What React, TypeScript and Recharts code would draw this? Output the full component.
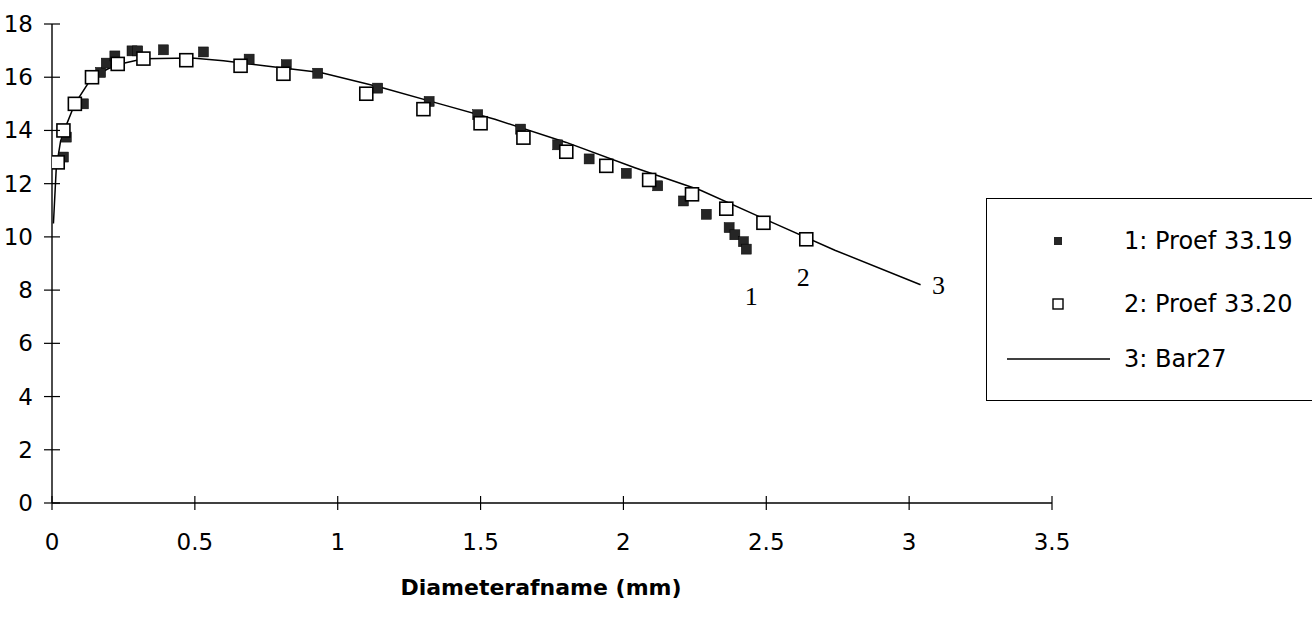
import { ScatterChart, Scatter, XAxis, YAxis, Legend } from "recharts";

// Proef 33.19 (filled squares)
const P1_X = [0.04, 0.05, 0.11, 0.17, 0.19, 0.22, 0.28, 0.3, 0.39, 0.53, 0.69, 0.82, 0.93, 1.14, 1.32, 1.49, 1.64, 1.77, 1.88, 2.01, 2.12, 2.21, 2.29, 2.37, 2.39, 2.42, 2.43];
const P1_Y = [13.0, 13.75, 15.0, 16.18, 16.53, 16.8, 16.99, 16.99, 17.03, 16.95, 16.68, 16.47, 16.15, 15.59, 15.09, 14.59, 14.05, 13.46, 12.93, 12.39, 11.92, 11.35, 10.85, 10.35, 10.08, 9.82, 9.54];

// Proef 33.20 (open squares)
const P2_X = [0.02, 0.04, 0.08, 0.14, 0.23, 0.32, 0.47, 0.66, 0.81, 1.1, 1.3, 1.5, 1.65, 1.8, 1.94, 2.09, 2.24, 2.36, 2.49, 2.64];
const P2_Y = [12.8, 14.0, 15.0, 16.0, 16.5, 16.7, 16.64, 16.43, 16.13, 15.38, 14.8, 14.27, 13.73, 13.2, 12.67, 12.14, 11.6, 11.06, 10.53, 9.91];

// Bar27 (line)
const BAR_X = [0.005, 0.015, 0.03, 0.05, 0.08, 0.14, 0.22, 0.32, 0.49, 0.6, 0.75, 0.94, 1.15, 1.37, 1.55, 1.8, 2.04, 2.27, 2.53, 2.74, 3.04];
const BAR_Y = [10.5, 12.6, 13.6, 14.2, 15.0, 16.0, 16.45, 16.69, 16.72, 16.62, 16.42, 16.18, 15.62, 14.96, 14.42, 13.55, 12.6, 11.75, 10.5, 9.5, 8.2];

const X_TICKS = [0, 0.5, 1, 1.5, 2, 2.5, 3, 3.5];
const Y_TICKS = [0, 2, 4, 6, 8, 10, 12, 14, 16, 18];

const NAME_1 = "1: Proef 33.19";
const NAME_2 = "2: Proef 33.20";
const NAME_3 = "3: Bar27";

const zip = (xs: number[], ys: number[]) => xs.map((x, i) => ({ x, y: ys[i] }));
const p1 = zip(P1_X, P1_Y);
const p2 = zip(P2_X, P2_Y);
const bar = zip(BAR_X, BAR_Y);

const SANS = "'DejaVu Sans', sans-serif";
const SERIF = "'Liberation Serif', 'DejaVu Serif', serif";

function XTick({ x, y, payload }: any) {
  return (
    <g>
      <line x1={x} x2={x} y1={y - 7} y2={y + 7} stroke="#000" strokeWidth={1.2} />
      <text x={x} y={y + 39} dy="0.35em" textAnchor="middle" fontSize={23} fontFamily={SANS} fill="#000">
        {payload.value}
      </text>
    </g>
  );
}

function YTick({ x, y, payload }: any) {
  return (
    <g>
      <line x1={x - 8} x2={x + 8} y1={y} y2={y} stroke="#000" strokeWidth={1.2} />
      <text x={x - 19} y={y} dy="0.35em" textAnchor="end" fontSize={23} fontFamily={SANS} fill="#000">
        {payload.value}
      </text>
    </g>
  );
}

function EndLabel({ cx, cy, text, dx, dy }: any) {
  return (
    <text x={cx + dx} y={cy + dy} dy="0.35em" textAnchor="middle" fontSize={26} fontFamily={SERIF} fill="#000">
      {text}
    </text>
  );
}

function FilledSquare(props: any) {
  const { cx, cy, payload } = props;
  const last = payload.x === P1_X[P1_X.length - 1] && payload.y === P1_Y[P1_Y.length - 1];
  return (
    <g>
      <rect x={cx - 5} y={cy - 5} width={10} height={10} fill="#262626" stroke="#000" strokeWidth={0.5} />
      {last && <EndLabel cx={cx} cy={cy} text="1" dx={5} dy={47} />}
    </g>
  );
}

function OpenSquare(props: any) {
  const { cx, cy, payload } = props;
  const last = payload.x === P2_X[P2_X.length - 1] && payload.y === P2_Y[P2_Y.length - 1];
  return (
    <g>
      <rect x={cx - 6.5} y={cy - 6.5} width={13} height={13} fill="#fff" stroke="#000" strokeWidth={1.6} />
      {last && <EndLabel cx={cx} cy={cy} text="2" dx={-3} dy={38} />}
    </g>
  );
}

function LineEnd(props: any) {
  const { cx, cy, payload } = props;
  const last = payload.x === BAR_X[BAR_X.length - 1];
  return <g>{last && <EndLabel cx={cx} cy={cy} text="3" dx={18} dy={0} />}</g>;
}

function LegendBox({ payload }: any) {
  const items = [...(payload || [])].sort((a: any, b: any) => String(a.value).localeCompare(String(b.value)));
  const rowY = [42, 105, 160];
  return (
    <div
      style={{
        width: 326,
        height: 201,
        borderLeft: "1.5px solid #000",
        borderTop: "1.5px solid #000",
        borderBottom: "1.5px solid #000",
        background: "#fff",
      }}
    >
      <svg width={326} height={201}>
        {items.map((item: any, i: number) => {
          const y = rowY[i];
          let marker = null;
          if (item.value === NAME_1) {
            marker = <rect x={67} y={y - 4} width={8} height={8} fill="#262626" />;
          } else if (item.value === NAME_2) {
            marker = <rect x={66} y={y - 5} width={10} height={10} fill="#fff" stroke="#000" strokeWidth={1.4} />;
          } else {
            marker = <line x1={20} x2={123} y1={y} y2={y} stroke="#000" strokeWidth={1.4} />;
          }
          return (
            <g key={item.value}>
              {marker}
              <text x={137} y={y} dy="0.35em" fontSize={24} fontFamily={SANS} fill="#000">
                {item.value}
              </text>
            </g>
          );
        })}
      </svg>
    </div>
  );
}

export default function App() {
  return (
    <div style={{ position: "absolute", left: 0, top: 0, width: 1312, height: 617, background: "#fff", overflow: "hidden" }}>
      <ScatterChart width={1312} height={617} margin={{ top: 24, right: 260, bottom: 0, left: 0 }}>
        <XAxis
          type="number"
          dataKey="x"
          domain={[0, 3.5]}
          ticks={X_TICKS}
          height={114}
          tickSize={0}
          tickMargin={0}
          tickLine={false}
          tick={XTick}
          axisLine={{ stroke: "#000", strokeWidth: 1.4 }}
          allowDataOverflow
          label={{
            value: "Diameterafname (mm)",
            position: "insideBottom",
            offset: 22,
            dx: -11,
            fill: "#000",
            fontSize: 22,
            fontWeight: "bold",
            fontFamily: SANS,
          }}
        />
        <YAxis
          type="number"
          dataKey="y"
          domain={[0, 18]}
          ticks={Y_TICKS}
          width={52}
          tickSize={0}
          tickMargin={0}
          tickLine={false}
          tick={YTick}
          axisLine={{ stroke: "#000", strokeWidth: 1.4 }}
          allowDataOverflow
        />
        <Legend
          layout="vertical"
          align="center"
          verticalAlign="middle"
          content={LegendBox}
          wrapperStyle={{ left: 986, top: 198, width: 326, height: 203 }}
        />
        <Scatter
          name={NAME_3}
          data={bar}
          line={{ stroke: "#000", strokeWidth: 1.5 }}
          lineType="joint"
          shape={LineEnd}
          fill="#000"
          isAnimationActive={false}
        />
        <Scatter name={NAME_1} data={p1} shape={FilledSquare} fill="#262626" isAnimationActive={false} />
        <Scatter name={NAME_2} data={p2} shape={OpenSquare} fill="#fff" isAnimationActive={false} />
      </ScatterChart>
    </div>
  );
}
